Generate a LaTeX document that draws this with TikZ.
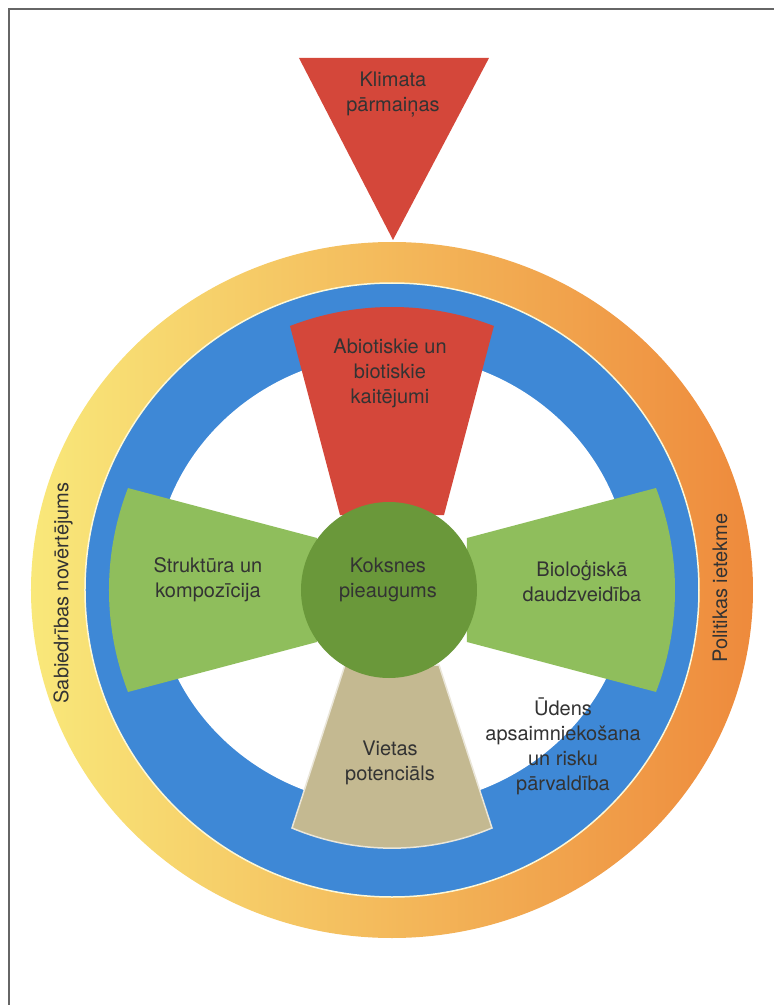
\documentclass[tikz,border=0pt]{standalone}
\usepackage{fontspec}
\setmainfont{TeX Gyre Heros}
\usepackage{tikz}

\definecolor{rouge}{HTML}{D4473A}
\definecolor{vertclair}{HTML}{8FBE5C}
\definecolor{vertfonce}{HTML}{6A983A}
\definecolor{beige}{HTML}{C4B991}
\definecolor{bleu}{HTML}{3E88D6}
\definecolor{jaune}{HTML}{F9E87A}
\definecolor{orange}{HTML}{EE8A3C}
\definecolor{texte}{HTML}{333333}

\begin{document}
\begin{tikzpicture}[x=1pt, y=1pt,
		etiquette/.style={align=center, text=texte, inner sep=0pt, font=\fontsize{20}{25}\selectfont},
		]

	\useasboundingbox (-392,-415) rectangle (382,590);

	% cadre
	\draw[gray!80!black, line width=1.5] (-383,-415) -- (-383,581) -- (382,581);

	% anneaux
	\shade[left color=jaune, right color=orange] (0,0) ellipse [x radius=361, y radius=348];
	\fill[bleu, draw=white!70!jaune, line width=1.5] (0,0) circle [radius=307];
	\fill[white] (0,10) ellipse [x radius=238, y radius=226];

	% branches
	\fill[rouge] (-52,75) -- (-102,264) arc[start angle=111.12, end angle=68.88, radius=283] -- (52,75) -- cycle;
	\fill[vertclair, rotate=90] (-52,75) -- (-102,264) arc[start angle=111.12, end angle=68.88, radius=283] -- (52,75) -- cycle;
	\fill[vertclair, rotate=-90] (-52,75) -- (-102,264) arc[start angle=111.12, end angle=68.88, radius=283] -- (52,75) -- cycle;
	\filldraw[fill=beige, draw=white!65!beige, line width=1.5, rotate=180] (-47,75) -- (-100,238) arc[start angle=112.79, end angle=67.21, radius=258.2] -- (47,75) -- cycle;

	% centre
	\fill[vertfonce] (-3,0) circle [radius=88];

	% triangle
	\fill[rouge] (-93,532) -- (97,532) -- (1,350) -- cycle;

	% textes
	\node[etiquette] (klimata) at (1,495) {Klimata\\pārmaiņas};
	\node[etiquette] (abiotiskie) at (-2,217) {Abiotiskie un\\biotiskie\\kaitējumi};
	\node[etiquette] (struktura) at (-184,10) {Struktūra un\\kompozīcija};
	\node[etiquette] (koksnes) at (-4,10) {Koksnes\\pieaugums};
	\node[etiquette] (bio) at (190,9) {Bioloģiskā\\daudzveidība};
	\node[etiquette] (vietas) at (-2,-173) {Vietas\\potenciāls};
	\node[etiquette] (udens) at (171,-156) {Ūdens\\apsaimniekošana\\un risku\\pārvaldība};
	\node[etiquette, rotate=90] (sabiedriba) at (-329,-3) {Sabiedrības novērtējums};
	\node[etiquette, rotate=90] (politika) at (328,2) {Politikas ietekme};

\end{tikzpicture}
\end{document}
